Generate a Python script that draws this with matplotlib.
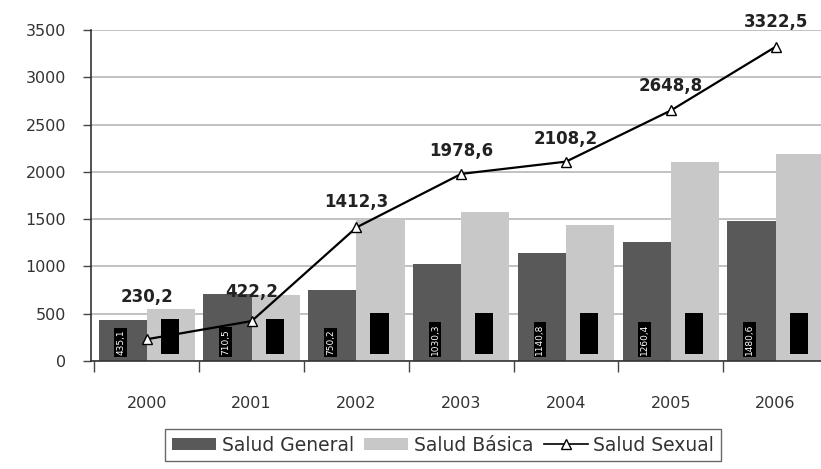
import numpy as np
import matplotlib
matplotlib.use("Agg")
import matplotlib.pyplot as plt
from matplotlib.lines import Line2D
from matplotlib.patches import Patch

years = ["2000", "2001", "2002", "2003", "2004", "2005", "2006"]
salud_general = [435.1, 710.5, 750.2, 1030.3, 1140.8, 1260.4, 1480.6]
salud_basica = [550.4, 700.2, 1500.5, 1570.3, 1440.6, 2100.4, 2190.7]
salud_sexual = [230.2, 422.2, 1412.3, 1978.6, 2108.2, 2648.8, 3322.5]

# label offset above the line points (pixels)
lab_off = [42, 29, 25, 23, 23, 24, 25]

def fmt(v):
    return ("%.1f" % v).replace(".", ",")

fig = plt.figure(figsize=(8.21, 4.69), dpi=100)
W, H = 821.0, 469.0
ax = fig.add_axes([91 / W, 108 / H, 737 / W, 331 / H])

x = np.arange(len(years))
w = 0.46
dark = "#595959"
light = "#c8c8c8"

ax.bar(x - w / 2, salud_general, w, color=dark, zorder=2)
ax.bar(x + w / 2, salud_basica, w, color=light, zorder=2)

# rotated data labels inside the bars (black boxes)
for i in range(len(years)):
    ax.annotate(fmt(salud_general[i]), (x[i] - w / 2 - 0.02, 0), xytext=(0, 6),
                textcoords="offset pixels", rotation=90, ha="center", va="bottom",
                fontsize=6.5, color="white", zorder=4,
                bbox=dict(boxstyle="square,pad=0.2", fc="black", ec="none"))
    ax.annotate(fmt(salud_basica[i]), (x[i] + w / 2 - 0.01, 0), xytext=(0, 12),
                textcoords="offset pixels", rotation=90, ha="center", va="bottom",
                fontsize=6.5, color="black", zorder=4,
                bbox=dict(boxstyle="square,pad=0.5", fc="black", ec="none"))

ax.plot(x, salud_sexual, color="black", lw=1.6, marker="^", ms=7.5,
        mfc="white", mec="black", mew=1.0, zorder=5)
for i, v in enumerate(salud_sexual):
    ax.annotate(fmt(v), (x[i], v), xytext=(0, lab_off[i]), textcoords="offset pixels",
                ha="center", va="center", fontsize=12, fontweight="bold",
                color="#222222", zorder=6)

ax.set_xlim(-0.533, 6.446)
ax.set_ylim(0, 3500)
ax.set_yticks(np.arange(0, 3501, 500))
ax.yaxis.grid(True, color="#bdbdbd", lw=1.3, zorder=0)
ax.set_axisbelow(True)

ax.set_xticks(x)
ax.set_xticklabels(years, fontsize=11.5, color="#333333")
ax.set_xticks(np.arange(-0.5, 7, 1), minor=True)
ax.tick_params(axis="x", which="major", length=0, pad=25)
ax.tick_params(axis="x", which="minor", length=8, width=1, color="#444444")
ax.tick_params(axis="y", labelsize=11.5, labelcolor="#333333", length=6,
               width=1, color="#444444", pad=12)

for s in ["top", "right"]:
    ax.spines[s].set_visible(False)
ax.spines["left"].set_color("#333333")
ax.spines["bottom"].set_color("#333333")
ax.spines["left"].set_linewidth(1.2)
ax.spines["bottom"].set_linewidth(1.2)

handles = [Patch(facecolor=dark, edgecolor="none", label="Salud General"),
           Patch(facecolor=light, edgecolor="none", label="Salud Básica"),
           Line2D([0], [0], color="black", lw=1.2, marker="^", ms=7,
                  mfc="white", mec="black", label="Salud Sexual")]
leg = fig.legend(handles=handles, loc="center", bbox_to_anchor=(443 / W, 1 - 445 / H),
                 ncol=3, frameon=True, fancybox=False, fontsize=13.5,
                 handlelength=2.35, handleheight=0.6, handletextpad=0.3,
                 columnspacing=0.55, borderpad=0.35)
leg.get_frame().set_edgecolor("#444444")
leg.get_frame().set_linewidth(1.0)
for t in leg.get_texts():
    t.set_color("#333333")

fig.savefig("out.png", dpi=100)
